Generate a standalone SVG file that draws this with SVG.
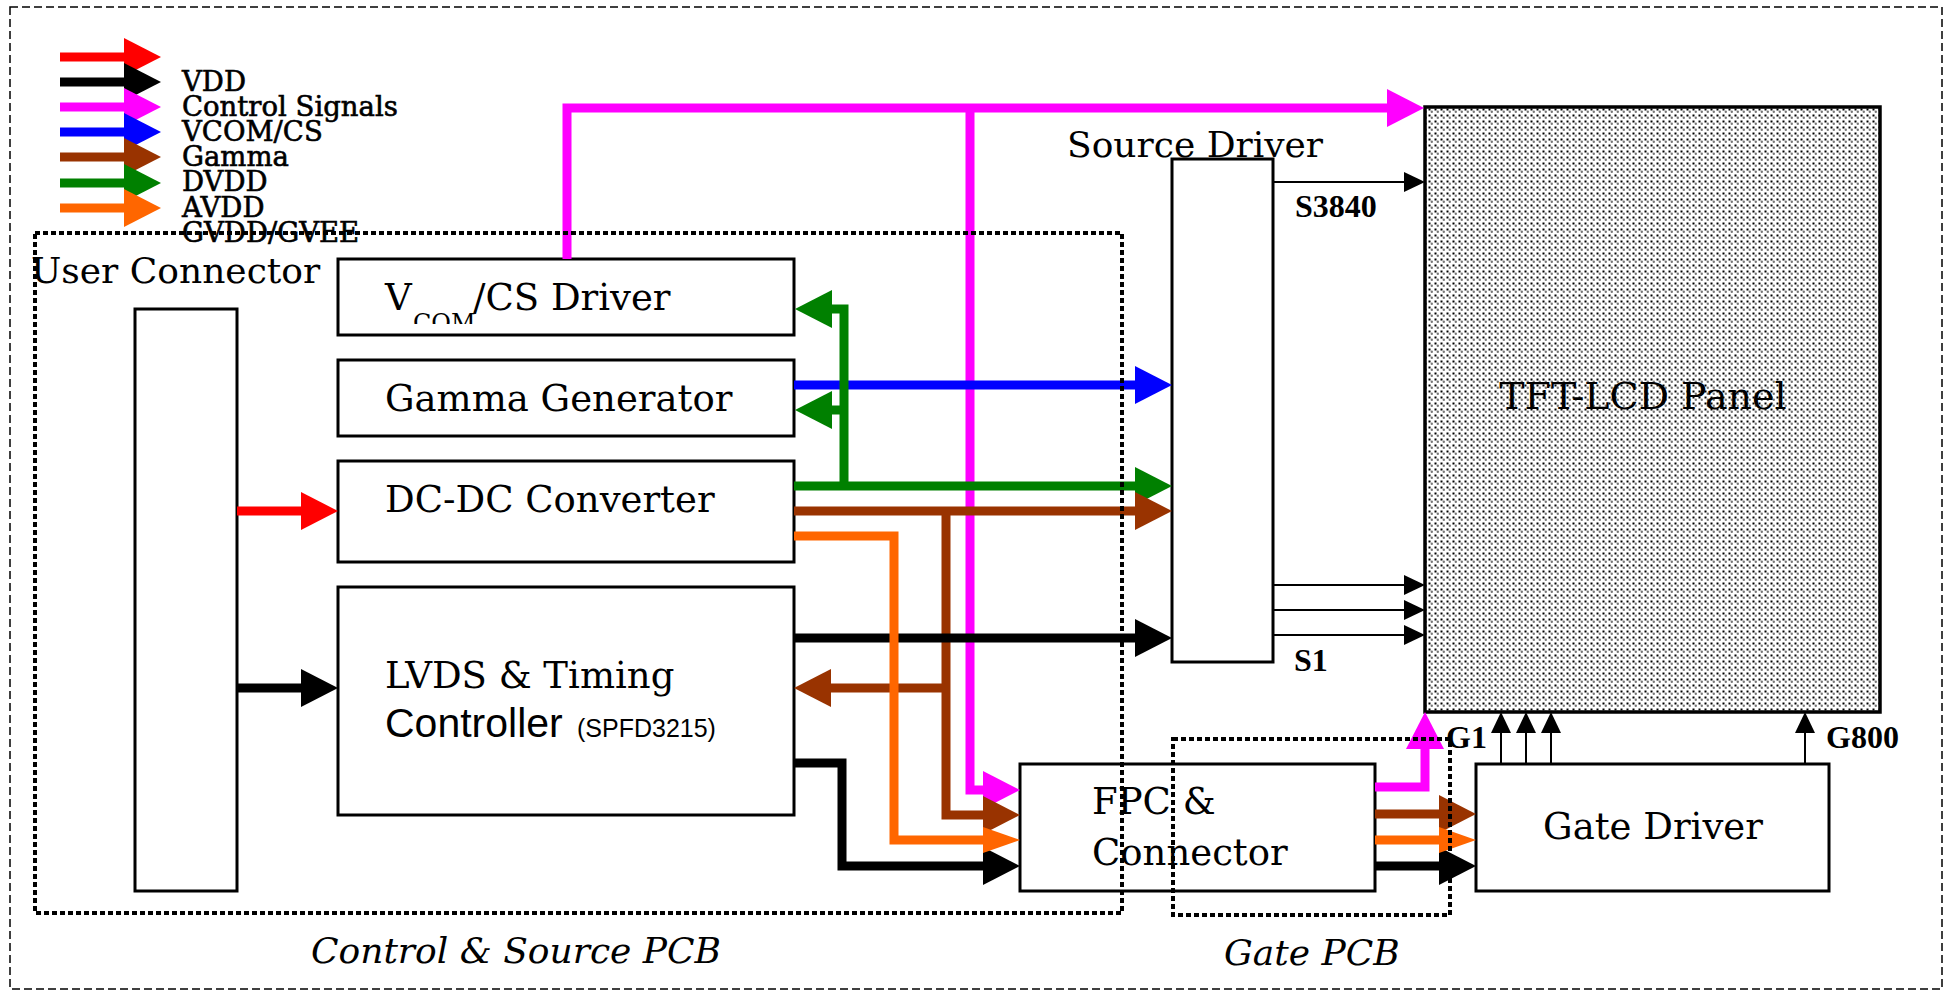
<svg xmlns="http://www.w3.org/2000/svg" width="1948" height="992" viewBox="0 0 1948 992">
<style>
.box{fill:#fff;stroke:#000;stroke-width:3}
.lbl{font-family:"DejaVu Serif",serif;font-size:37px;fill:#000}
.leg{font-family:"DejaVu Serif",serif;font-size:27.5px;fill:#000;stroke:#000;stroke-width:0.6}
.sig{font-family:"Liberation Serif","Times New Roman",serif;font-weight:bold;font-size:32px;fill:#000}
.pcb{font-family:"DejaVu Serif",serif;font-style:italic;font-size:36px;fill:#000}
.dotbox{fill:none;stroke:#000;stroke-width:4;stroke-dasharray:5 3}
.w{fill:none;stroke-width:9;stroke-linejoin:miter;stroke-linecap:butt}
.thin{fill:none;stroke:#000;stroke-width:2}
.red{stroke:#ff0000}.blk{stroke:#000}.mag{stroke:#ff00ff}.blu{stroke:#0000ff}.brn{stroke:#993300}.grn{stroke:#008000}.org{stroke:#ff6600}
</style>
<defs>
<pattern id="dots" width="6" height="6" patternUnits="userSpaceOnUse">
<rect width="6" height="6" fill="#fff"/>
<rect x="0.5" y="0.5" width="2" height="2" fill="#000"/>
<circle cx="3.8" cy="3.8" r="1.2" fill="#777"/>
</pattern>
<marker id="hRed" markerUnits="userSpaceOnUse" viewBox="0 0 37 38" markerWidth="37" markerHeight="38" refX="0" refY="19" orient="auto"><path d="M0,0L37,19L0,38z" fill="#ff0000"/></marker>
<marker id="hBlk" markerUnits="userSpaceOnUse" viewBox="0 0 37 38" markerWidth="37" markerHeight="38" refX="0" refY="19" orient="auto"><path d="M0,0L37,19L0,38z" fill="#000"/></marker>
<marker id="hMag" markerUnits="userSpaceOnUse" viewBox="0 0 37 38" markerWidth="37" markerHeight="38" refX="0" refY="19" orient="auto"><path d="M0,0L37,19L0,38z" fill="#ff00ff"/></marker>
<marker id="hBlu" markerUnits="userSpaceOnUse" viewBox="0 0 37 38" markerWidth="37" markerHeight="38" refX="0" refY="19" orient="auto"><path d="M0,0L37,19L0,38z" fill="#0000ff"/></marker>
<marker id="hBrn" markerUnits="userSpaceOnUse" viewBox="0 0 37 38" markerWidth="37" markerHeight="38" refX="0" refY="19" orient="auto"><path d="M0,0L37,19L0,38z" fill="#993300"/></marker>
<marker id="hGrn" markerUnits="userSpaceOnUse" viewBox="0 0 37 38" markerWidth="37" markerHeight="38" refX="0" refY="19" orient="auto"><path d="M0,0L37,19L0,38z" fill="#008000"/></marker>
<marker id="hOrg" markerUnits="userSpaceOnUse" viewBox="0 0 37 38" markerWidth="37" markerHeight="38" refX="0" refY="19" orient="auto"><path d="M0,0L37,19L0,38z" fill="#ff6600"/></marker>
<marker id="hOrgS" markerUnits="userSpaceOnUse" viewBox="0 0 37 26" markerWidth="37" markerHeight="26" refX="0" refY="13" orient="auto"><path d="M0,0L37,13L0,26z" fill="#ff6600"/></marker>
<marker id="hThin" markerUnits="userSpaceOnUse" viewBox="0 0 21 20" markerWidth="21" markerHeight="20" refX="0" refY="10" orient="auto"><path d="M0,0L21,10L0,20z" fill="#000"/></marker>
<clipPath id="subClip"><rect x="400" y="300" width="80" height="24"/></clipPath>
</defs>

<rect x="10" y="7" width="1932" height="982" fill="none" stroke="#000" stroke-width="1.5" stroke-dasharray="8 4"/>

<g id="legend">
<path class="w red" d="M60,57H124" marker-end="url(#hRed)"/>
<path class="w blk" d="M60,82H124" marker-end="url(#hBlk)"/>
<path class="w mag" d="M60,107H124" marker-end="url(#hMag)"/>
<path class="w blu" d="M60,132H124" marker-end="url(#hBlu)"/>
<path class="w brn" d="M60,157H124" marker-end="url(#hBrn)"/>
<path class="w grn" d="M60,183H124" marker-end="url(#hGrn)"/>
<path class="w org" d="M60,208H124" marker-end="url(#hOrg)"/>
<text class="leg" x="182" y="91">VDD</text>
<text class="leg" x="182" y="116">Control Signals</text>
<text class="leg" x="182" y="141">VCOM/CS</text>
<text class="leg" x="182" y="166">Gamma</text>
<text class="leg" x="182" y="191">DVDD</text>
<text class="leg" x="182" y="217">AVDD</text>
<text class="leg" x="182" y="242">GVDD/GVEE</text>
</g>

<g id="user-connector">
<rect class="box" x="135" y="309" width="102" height="582"/>
<text class="lbl" x="31" y="283" style="font-size:36px">User Connector</text>
</g>

<g id="vcom-driver">
<rect class="box" x="338" y="259" width="456" height="76"/>
<text class="lbl" x="385" y="310">V</text>
<text class="lbl" x="413" y="331" style="font-size:24px" clip-path="url(#subClip)">COM</text>
<text class="lbl" x="473" y="310">/CS Driver</text>
</g>

<g id="gamma-generator">
<rect class="box" x="338" y="360" width="456" height="76"/>
<text class="lbl" x="385" y="411">Gamma Generator</text>
</g>

<g id="dcdc-converter">
<rect class="box" x="338" y="461" width="456" height="101"/>
<text class="lbl" x="385" y="512">DC-DC Converter</text>
</g>

<g id="lvds-timing">
<rect class="box" x="338" y="587" width="456" height="228"/>
<text class="lbl" x="385" y="688">LVDS &amp; Timing</text>
<text x="385" y="737" style="font-family:'Liberation Sans',Arial,sans-serif;font-size:41px">Controller<tspan x="577" style="font-size:25px">(SPFD3215)</tspan></text>
</g>

<g id="source-driver">
<rect class="box" x="1172" y="159" width="101" height="503"/>
<text class="lbl" x="1067" y="157" style="font-size:36px">Source Driver</text>
</g>

<g id="tft-panel">
<rect x="1425" y="107" width="455" height="605" fill="url(#dots)" stroke="#000" stroke-width="3.5"/>
<text class="lbl" x="1643" y="409" text-anchor="middle" style="font-size:38px">TFT-LCD Panel</text>
</g>

<g id="fpc-connector">
<rect class="box" x="1020" y="764" width="355" height="127"/>
<text class="lbl" x="1092" y="814">FPC &amp;</text>
<text class="lbl" x="1092" y="865">Connector</text>
</g>

<g id="gate-driver">
<rect class="box" x="1476" y="764" width="353" height="127"/>
<text class="lbl" x="1653" y="839" text-anchor="middle">Gate Driver</text>
</g>

<g id="connectors">
<path class="w red" d="M237,511H301" marker-end="url(#hRed)"/>
<path class="w blk" d="M237,688H301" marker-end="url(#hBlk)"/>
<path class="w mag" d="M567,259V108H1387" marker-end="url(#hMag)"/>
<path class="w mag" d="M970,108V790H983" marker-end="url(#hMag)"/>
<path class="w mag" d="M1375,787H1425V749" marker-end="url(#hMag)"/>
<path class="w blu" d="M794,385H1135" marker-end="url(#hBlu)"/>
<path class="w grn" d="M794,486H1135" marker-end="url(#hGrn)"/>
<path class="w grn" d="M844,486V309H832" marker-end="url(#hGrn)"/>
<path class="w grn" d="M844,410H832" marker-end="url(#hGrn)"/>
<path class="w brn" d="M794,511H1135" marker-end="url(#hBrn)"/>
<path class="w brn" d="M946,511V815H983" marker-end="url(#hBrn)"/>
<path class="w brn" d="M946,688H831" marker-end="url(#hBrn)"/>
<path class="w blk" d="M794,638H1135" marker-end="url(#hBlk)"/>
<path class="w blk" d="M794,763H842V866H983" marker-end="url(#hBlk)"/>
<path class="w org" d="M794,536H894V840H983" marker-end="url(#hOrgS)"/>
<path class="w brn" d="M1375,814H1439" marker-end="url(#hBrn)"/>
<path class="w blk" d="M1375,866H1439" marker-end="url(#hBlk)"/>
<path class="w org" d="M1375,840H1439" marker-end="url(#hOrgS)"/>
<path class="thin" d="M1273,182H1404" marker-end="url(#hThin)"/>
<path class="thin" d="M1273,585H1404" marker-end="url(#hThin)"/>
<path class="thin" d="M1273,610H1404" marker-end="url(#hThin)"/>
<path class="thin" d="M1273,635H1404" marker-end="url(#hThin)"/>
<path class="thin" d="M1501,764V733" marker-end="url(#hThin)"/>
<path class="thin" d="M1526,764V733" marker-end="url(#hThin)"/>
<path class="thin" d="M1551,764V733" marker-end="url(#hThin)"/>
<path class="thin" d="M1805,764V733" marker-end="url(#hThin)"/>
</g>

<g id="signal-labels">
<text class="sig" x="1295" y="217">S3840</text>
<text class="sig" x="1294" y="671">S1</text>
<text class="sig" x="1446" y="748">G1</text>
<text class="sig" x="1826" y="748">G800</text>
</g>

<g id="control-source-pcb">
<rect class="dotbox" x="35" y="233" width="1087" height="680"/>
<text class="pcb" x="311" y="963">Control &amp; Source PCB</text>
</g>

<g id="gate-pcb">
<rect class="dotbox" x="1173" y="739" width="277" height="176"/>
<text class="pcb" x="1224" y="965">Gate PCB</text>
</g>
</svg>
